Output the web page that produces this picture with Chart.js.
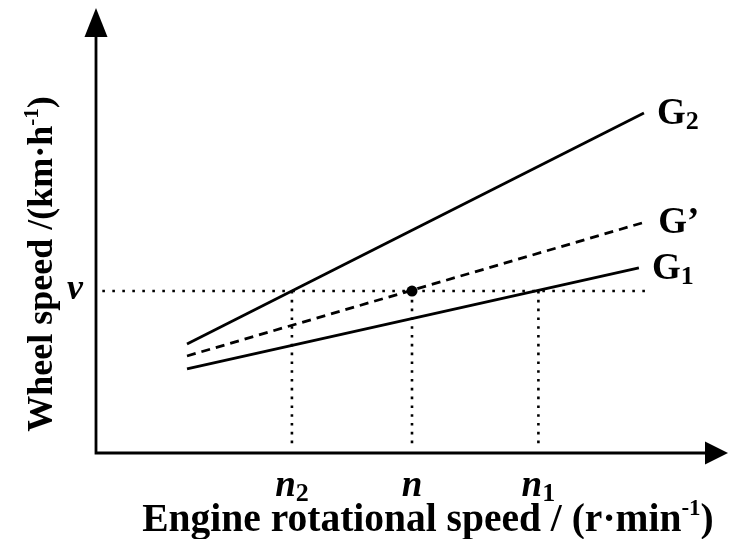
<!DOCTYPE html>
<html>
<head>
<meta charset="utf-8">
<script src="https://cdn.jsdelivr.net/npm/chart.js@4.4.1/dist/chart.umd.min.js"></script>
<style>
  html, body { margin: 0; padding: 0; background: #fff; }
  #wrap { width: 743px; height: 539px; position: relative; }
</style>
</head>
<body>
<div id="wrap"><canvas id="gearChart"></canvas></div>
<script>
// schematic units, both axes run 0..100
const lineNames = ["G2", "G’", "G1"];
const lineStartX = [14.4, 14.4, 14.4];
const lineEndX = [86.7, 86.9, 85.9];
const lineStartY = [24.5, 21.8, 18.9];
const lineEndY = [76.4, 51.9, 41.6];
const lineDashed = [false, true, false];

const speedTicks = [31, 50, 70];
const speedTickLabels = [["n", "2"], ["n", ""], ["n", "1"]];
const wheelSpeedV = 36.4;
const guideStartX = 1;
const guideEndX = 88;

const SERIF = "'Liberation Serif', 'Times New Roman', serif";

const datasets = [];

lineNames.forEach((name, i) => {
    datasets.push({
        label: name,
        data: [
            { x: lineStartX[i], y: lineStartY[i] },
            { x: lineEndX[i], y: lineEndY[i] },
        ],
        showLine: true,
        borderColor: "#000",
        borderWidth: 2.8,
        borderDash: lineDashed[i] ? [9, 6] : [],
        pointRadius: 0,
    });
});

// dotted guide lines
datasets.push({
    label: "v",
    data: [
        { x: guideStartX, y: wheelSpeedV },
        { x: guideEndX, y: wheelSpeedV },
    ],
    showLine: true,
    borderColor: "#000",
    borderWidth: 2.6,
    borderDash: [2.6, 7.4],
    pointRadius: 0,
});
speedTicks.forEach((t) => {
    datasets.push({
        label: "n" + t,
        data: [
            { x: t, y: wheelSpeedV },
            { x: t, y: 0.8 },
        ],
        showLine: true,
        borderColor: "#000",
        borderWidth: 2.6,
        borderDash: [2.6, 6.2],
        pointRadius: 0,
    });
});

// operating point (n, v)
datasets.push({
    label: "point",
    data: [{ x: speedTicks[1], y: wheelSpeedV }],
    showLine: false,
    pointRadius: 5.5,
    pointBackgroundColor: "#000",
    pointBorderColor: "#000",
    pointBorderWidth: 0,
});

function drawParts(ctx, parts, x, y, align) {
    let w = 0;
    parts.forEach((p) => {
        ctx.font = p.font;
        w += ctx.measureText(p.t).width;
    });
    let cx = align === "center" ? x - w / 2 : align === "right" ? x - w : x;
    parts.forEach((p) => {
        ctx.font = p.font;
        ctx.fillText(p.t, cx, y + (p.dy || 0));
        cx += ctx.measureText(p.t).width;
    });
}

const decorPlugin = {
    id: "decor",
    afterDraw(chart) {
        const ctx = chart.ctx;
        const xs = chart.scales.x;
        const ys = chart.scales.y;
        const x0 = xs.getPixelForValue(0);
        const xEnd = xs.getPixelForValue(100);
        const y0 = ys.getPixelForValue(0);
        const yEnd = ys.getPixelForValue(100);

        ctx.save();
        ctx.strokeStyle = "#000";
        ctx.fillStyle = "#000";
        ctx.lineWidth = 2.8;

        // axes
        ctx.beginPath();
        ctx.moveTo(x0, y0);
        ctx.lineTo(x0, yEnd + 20);
        ctx.moveTo(x0 - 1.4, y0);
        ctx.lineTo(xEnd - 15, y0);
        ctx.stroke();

        // arrow heads
        ctx.beginPath();
        ctx.moveTo(x0, yEnd);
        ctx.lineTo(x0 - 11.5, yEnd + 29);
        ctx.lineTo(x0 + 11.5, yEnd + 29);
        ctx.closePath();
        ctx.fill();
        ctx.beginPath();
        ctx.moveTo(xEnd, y0);
        ctx.lineTo(xEnd - 23, y0 - 11.5);
        ctx.lineTo(xEnd - 23, y0 + 11.5);
        ctx.closePath();
        ctx.fill();

        ctx.textAlign = "left";
        ctx.textBaseline = "alphabetic";

        // line names
        lineNames.forEach((name, i) => {
            const px = xs.getPixelForValue(lineEndX[i]) + 13;
            const py = ys.getPixelForValue(lineEndY[i]) + 11;
            const sub = /\d/.test(name.charAt(1)) ? name.charAt(1) : "";
            drawParts(ctx, [
                { t: sub ? name.charAt(0) : name, font: "bold 37px " + SERIF },
                { t: sub, font: "bold 26px " + SERIF, dy: 5 },
            ], px, py, "left");
        });

        // n ticks
        speedTicks.forEach((t, i) => {
            const px = xs.getPixelForValue(t);
            const lab = speedTickLabels[i];
            drawParts(ctx, [
                { t: lab[0], font: "italic bold 37px " + SERIF },
                { t: lab[1], font: "bold 26px " + SERIF, dy: 5 },
            ], px, y0 + 43, "center");
        });

        // v label
        ctx.font = "italic bold 36px " + SERIF;
        ctx.textAlign = "center";
        ctx.fillText("v", x0 - 21, ys.getPixelForValue(wheelSpeedV) + 8);
        ctx.textAlign = "left";

        // x title
        drawParts(ctx, [
            { t: "Engine rotational speed / (r·min", font: "bold 39.5px " + SERIF },
            { t: "-1", font: "bold 23px " + SERIF, dy: -16 },
            { t: ")", font: "bold 39.5px " + SERIF },
        ], 428, 531, "center");

        // y title
        ctx.translate(52, 264);
        ctx.rotate(-Math.PI / 2);
        drawParts(ctx, [
            { t: "Wheel speed /(km·h", font: "bold 36px " + SERIF },
            { t: "-1", font: "bold 21px " + SERIF, dy: -14 },
            { t: ")", font: "bold 36px " + SERIF },
        ], 0, 0, "center");

        ctx.restore();
    },
};

new Chart(document.getElementById("gearChart"), {
    type: "scatter",
    data: { datasets: datasets },
    options: {
        responsive: true,
        maintainAspectRatio: false,
        animation: false,
        layout: {
            padding: { left: 96, right: 15, top: 8, bottom: 86 },
        },
        plugins: {
            legend: { display: false },
            tooltip: { enabled: false },
        },
        scales: {
            x: { type: "linear", min: 0, max: 100, display: false },
            y: { type: "linear", min: 0, max: 100, display: false },
        },
    },
    plugins: [decorPlugin],
});
</script>
</body>
</html>
